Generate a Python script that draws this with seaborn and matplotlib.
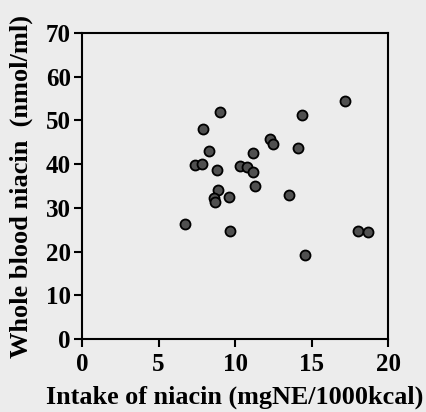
import numpy as np
import pandas as pd
import matplotlib
matplotlib.use('Agg')
import matplotlib.pyplot as plt
import seaborn as sns

# values
intake = [17.2, 9.0, 14.4, 7.9, 12.3, 12.5, 14.1, 8.3, 11.2, 7.4, 7.85,
          8.8, 10.3, 10.8, 11.2, 11.3, 8.9, 9.6, 8.6, 8.7, 13.5, 6.7,
          9.7, 14.6, 18.0, 18.7]
blood = [54.5, 51.9, 51.3, 48.0, 45.8, 44.6, 43.7, 42.9, 42.5, 39.9, 40.0,
         38.7, 39.6, 39.3, 38.2, 35.1, 34.1, 32.6, 32.2, 31.4, 33.0, 26.3,
         24.7, 19.3, 24.7, 24.5]

df = pd.DataFrame({'intake': intake, 'blood': blood})

sns.set_style('ticks')
plt.rcParams['font.family'] = ['Liberation Serif', 'DejaVu Serif']
plt.rcParams['font.weight'] = 'bold'
plt.rcParams['text.color'] = 'black'
plt.rcParams['axes.labelcolor'] = 'black'
plt.rcParams['xtick.color'] = 'black'
plt.rcParams['ytick.color'] = 'black'

bg = '#ececec'
fig = plt.figure(figsize=(4.27, 4.12), dpi=100, facecolor=bg)
ax = fig.add_axes([0.192, 0.177, 0.717, 0.743])
ax.set_facecolor(bg)

sns.scatterplot(data=df, x='intake', y='blood', ax=ax, s=52,
                color='#505050', edgecolor='black', linewidth=1.3, zorder=3)

ax.set_xlim(0, 20)
ax.set_ylim(0, 70)
ax.set_xticks([0, 5, 10, 15, 20])
ax.set_yticks(range(0, 71, 10))
for sp in ax.spines.values():
    sp.set_linewidth(1.5)
    sp.set_color('black')
ax.tick_params(direction='out', length=6, width=1.5, labelsize=18)
ax.tick_params(axis='x', pad=4)
ax.tick_params(axis='y', pad=2)
for lab in ax.get_xticklabels() + ax.get_yticklabels():
    lab.set_fontweight('bold')

ax.set_xlabel('Intake of niacin (mgNE/1000kcal)', fontsize=18.8,
              fontweight='bold', labelpad=7)
ax.set_ylabel('Whole blood niacin  (nmol/ml)', fontsize=19,
              fontweight='bold', labelpad=9)

fig.savefig('out.png', dpi=100, facecolor=bg)
